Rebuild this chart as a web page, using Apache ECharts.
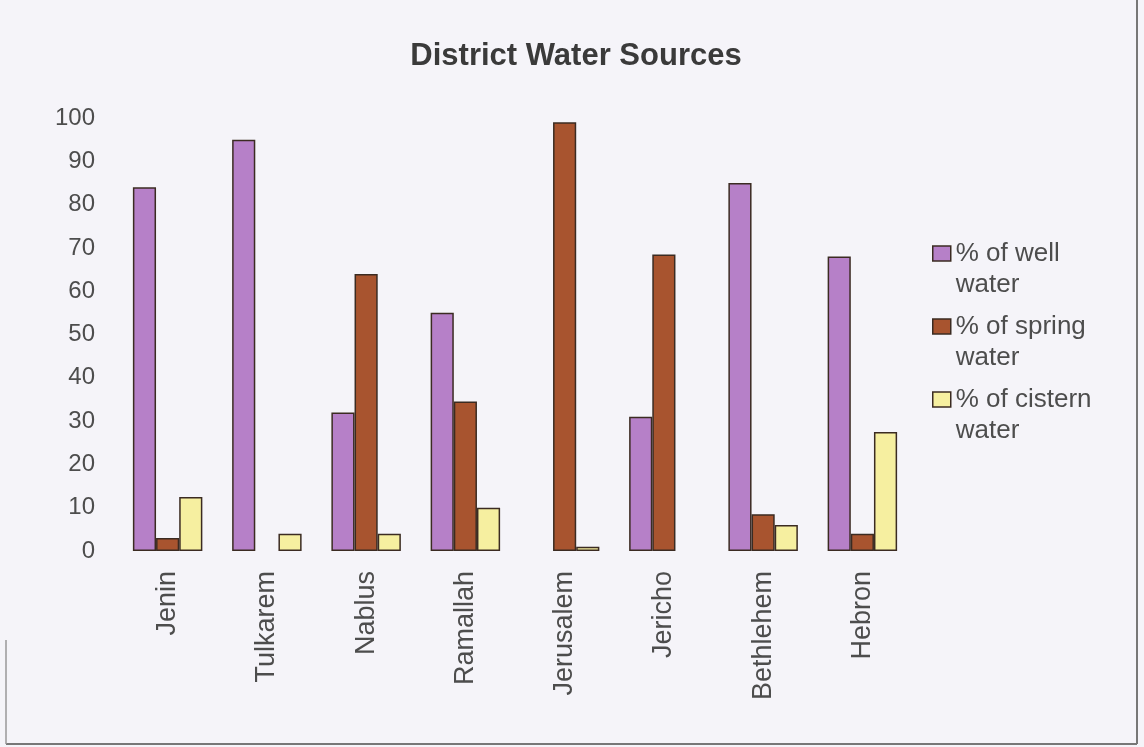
<!DOCTYPE html>
<html>
<head>
<meta charset="utf-8">
<script src="https://cdn.jsdelivr.net/npm/echarts@6/dist/echarts.min.js"></script>
<style>
html,body{margin:0;padding:0;background:#f5f4f9;}
#chart{width:1144px;height:747px;}
</style>
</head>
<body>
<div id="chart"></div>
<script>
var title = 'District Water Sources';
var categories = ['Jenin', 'Tulkarem', 'Nablus', 'Ramallah', 'Jerusalem', 'Jericho', 'Bethlehem', 'Hebron'];
var seriesNames = ['% of well water', '% of spring water', '% of cistern water'];
var wellWater = [84, 95, 32, 55, 0, 31, 85, 68];
var springWater = [3, 0, 64, 34.5, 99, 68.5, 8.5, 4];
var cisternWater = [12.5, 4, 4, 10, 1, 0, 6, 27.5];
var yTicks = [0, 10, 20, 30, 40, 50, 60, 70, 80, 90, 100];

var colors = ['#b680c8', '#a8542f', '#f6efa0'];
var font = '"Liberation Sans", Arial, sans-serif';

var chart = echarts.init(document.getElementById('chart'), null, {renderer: 'canvas'});
var values = [wellWater, springWater, cisternWater];
var series = seriesNames.map(function (name, i) {
  return {
    name: name,
    type: 'bar',
    data: values[i].map(function (v) { return v === 0 ? '-' : v; }),
    barGap: '0%',
    barCategoryGap: '30%',
    itemStyle: {color: colors[i], borderColor: '#3b2b22', borderWidth: 1.5}
  };
});

chart.setOption({
  backgroundColor: '#f5f4f9',
  animation: false,
  title: {
    text: title,
    left: 571, top: 36, textAlign: 'center',
    textStyle: {fontFamily: font, fontSize: 31, fontWeight: 'bold', color: '#3a3a3a'}
  },
  legend: {
    orient: 'vertical',
    left: 927, top: 202,
    itemWidth: 18, itemHeight: 15,
    itemGap: -20,
    icon: 'rect',
    itemStyle: {borderColor: '#3b2b22', borderWidth: 1.5},
    formatter: function (n) { return '\n' + n.replace(/^(% of \S+) /, '$1\n'); },
    textStyle: {fontFamily: font, fontSize: 26, color: '#4d4d4d', lineHeight: 31},
    data: seriesNames
  },
  grid: {left: 118, right: 232, top: 118, bottom: 196, containLabel: false},
  xAxis: {
    type: 'category',
    data: categories,
    axisLine: {show: false},
    axisTick: {show: false},
    axisLabel: {rotate: 90, margin: 20, fontFamily: font, fontSize: 27, color: '#4d4d4d'}
  },
  yAxis: {
    type: 'value',
    min: yTicks[0], max: yTicks[yTicks.length - 1], interval: 10,
    axisLine: {show: false},
    axisTick: {show: false},
    splitLine: {show: false},
    axisLabel: {margin: 23, fontFamily: font, fontSize: 24, color: '#4d4d4d'}
  },
  graphic: [
    {type: 'line', shape: {x1: 1137, y1: 0, x2: 1137, y2: 744}, style: {stroke: '#777', lineWidth: 2}},
    {type: 'line', shape: {x1: 6, y1: 744, x2: 1137, y2: 744}, style: {stroke: '#777', lineWidth: 2}},
    {type: 'line', shape: {x1: 6, y1: 640, x2: 6, y2: 744}, style: {stroke: '#999', lineWidth: 1.5}}
  ],
  series: series
});
</script>
</body>
</html>
